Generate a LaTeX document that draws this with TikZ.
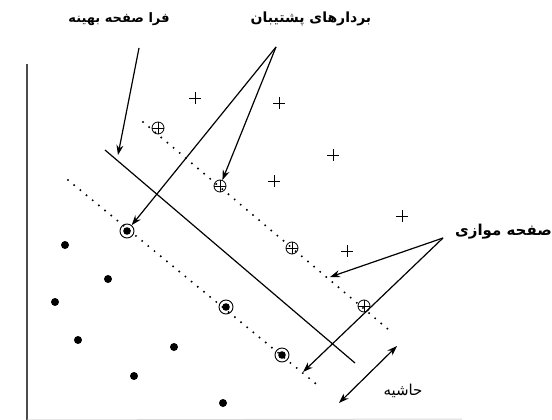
\documentclass[tikz,border=0pt]{standalone}
\usepackage{fontspec}
\usetikzlibrary{arrows.meta}
\TeXXeTstate=1
\newfontfamily\arabicfont[Script=Arabic]{DejaVu Sans}
\begin{document}
\begin{tikzpicture}[x=1pt,y=-1pt,
  plusmark/.style={inner sep=0pt,minimum size=12pt,
    path picture={\draw[line width=0.8pt]
      (path picture bounding box.north) -- (path picture bounding box.south)
      (path picture bounding box.west) -- (path picture bounding box.east);}},
  posv/.style={circle,draw,line width=0.8pt,inner sep=0pt,minimum size=12pt,
    path picture={\draw[line width=0.8pt]
      (path picture bounding box.north) -- (path picture bounding box.south)
      (path picture bounding box.west) -- (path picture bounding box.east);}},
  negv/.style={circle,draw,line width=0.9pt,inner sep=0pt,minimum size=14pt,
    path picture={\fill (path picture bounding box.center) circle (3.8pt);}},
  negpt/.style={circle,fill,inner sep=0pt,minimum size=8pt},
  dotline/.style={line width=2.2pt,line cap=round,dash pattern=on 0pt off 8pt},
  solidline/.style={line width=1.2pt},
  pointer/.style={line width=1.2pt,-{Stealth[length=10pt,width=7pt]}},
  dpointer/.style={line width=1.2pt,{Stealth[length=10pt,width=7pt]}-{Stealth[length=10pt,width=7pt]}},
  lbl/.style={inner sep=1pt,font=\arabicfont\bfseries},
  lbln/.style={inner sep=1pt,font=\arabicfont}]
\useasboundingbox (0,0) rectangle (552,420);
% axes
\coordinate (ax1) at (27,64);
\coordinate (ax2) at (27,420);
\coordinate (ax3) at (462,419);
\draw[line width=2pt,black!70] (ax1) -- (ax2);
\draw[line width=1pt,black!15] (ax2) -- (ax3);
% lines
\coordinate (h1) at (105,150);
\coordinate (h2) at (355,363);
\coordinate (u1) at (143,122);
\coordinate (u2) at (389,330);
\coordinate (l1) at (68,180);
\coordinate (l2) at (321,388);
\draw[solidline] (h1) -- (h2);
\draw[dotline] (u1) -- (u2);
\draw[dotline] (l1) -- (l2);
% positive points
\node[plusmark] (p1) at (195,98) {};
\node[plusmark] (p2) at (279,103) {};
\node[plusmark] (p3) at (333,155) {};
\node[plusmark] (p4) at (274,181) {};
\node[plusmark] (p5) at (402,216) {};
\node[plusmark] (p6) at (347,251) {};
% positive support vectors
\node[posv] (s1) at (158,128) {};
\node[posv] (s2) at (220,186) {};
\node[posv] (s3) at (292,248) {};
\node[posv] (s4) at (364,306) {};
% negative points
\node[negpt] (n1) at (65,245) {};
\node[negpt] (n2) at (108,279) {};
\node[negpt] (n3) at (55,302) {};
\node[negpt] (n4) at (78,340) {};
\node[negpt] (n5) at (174,347) {};
\node[negpt] (n6) at (134,376) {};
\node[negpt] (n7) at (223,403) {};
% negative support vectors
\node[negv] (t1) at (127,231) {};
\node[negv] (t2) at (226,307) {};
\node[negv] (t3) at (282,355) {};
% labels
\node[lbl] (lh) at (119,19) {\fontsize{13}{15}\selectfont\beginR فرا صفحه بهینه\endR};
\node[lbl] (ls) at (311,19) {\fontsize{14}{16}\selectfont\beginR بردارهای پشتیبان\endR};
\node[lbl,anchor=east] (lp) at (553,232) {\fontsize{15}{17}\selectfont\beginR صفحه موازی\endR};
\node[lbln] (lm) at (403,391) {\fontsize{15}{17}\selectfont\beginR حاشیه\endR};
% arrows
\coordinate (ah) at (139,48);
\coordinate (ahT) at (118,155);
\draw[pointer] (ah) -- (ahT);
\coordinate (as) at (276,47);
\draw[pointer] (as) -- (s2);
\draw[pointer] (as) -- (t1);
\coordinate (ap) at (443,238);
\coordinate (apU) at (330,277);
\coordinate (apL) at (303,372);
\draw[pointer] (ap) -- (apU);
\draw[pointer] (ap) -- (apL);
\coordinate (am1) at (397,346);
\coordinate (am2) at (339,403);
\draw[dpointer] (am1) -- (am2);
\end{tikzpicture}
\end{document}
